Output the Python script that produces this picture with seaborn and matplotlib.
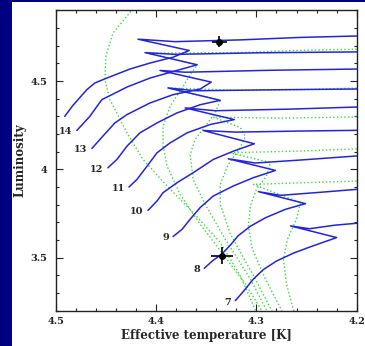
import numpy as np
import pandas as pd
import matplotlib
matplotlib.use("Agg")
import matplotlib.pyplot as plt
from matplotlib.patches import Rectangle
from matplotlib.ticker import MultipleLocator, FuncFormatter
import seaborn as sns


# ---------------------------------------------------------
# evolutionary tracks (log Teff, log L), masses in Msun
# ---------------------------------------------------------
track_15_logt = [4.491, 4.483, 4.469, 4.461, 4.449, 4.426, 4.406, 4.383, 4.367, 4.418, 4.381, 4.316, 4.256, 4.200]
track_15_logl = [4.300, 4.361, 4.451, 4.489, 4.517, 4.568, 4.602, 4.635, 4.673, 4.737, 4.723, 4.733, 4.747, 4.755]

track_14_logt = [4.479, 4.466, 4.454, 4.444, 4.429, 4.406, 4.383, 4.359, 4.411, 4.381, 4.296, 4.200]
track_14_logl = [4.220, 4.300, 4.395, 4.423, 4.466, 4.517, 4.554, 4.592, 4.661, 4.651, 4.660, 4.665]

track_13_logt = [4.464, 4.453, 4.441, 4.429, 4.406, 4.383, 4.356, 4.345, 4.396, 4.371, 4.286, 4.200]
track_13_logl = [4.118, 4.188, 4.263, 4.310, 4.376, 4.423, 4.455, 4.494, 4.560, 4.550, 4.561, 4.568]

track_12_logt = [4.448, 4.439, 4.429, 4.416, 4.399, 4.379, 4.356, 4.336, 4.388, 4.361, 4.276, 4.200]
track_12_logl = [4.009, 4.056, 4.131, 4.207, 4.263, 4.320, 4.366, 4.391, 4.461, 4.445, 4.451, 4.455]

track_11_logt = [4.427, 4.419, 4.409, 4.399, 4.386, 4.369, 4.346, 4.322, 4.371, 4.341, 4.267, 4.200]
track_11_logl = [3.900, 3.943, 4.018, 4.094, 4.150, 4.207, 4.254, 4.282, 4.348, 4.332, 4.341, 4.353]

track_10_logt = [4.408, 4.399, 4.393, 4.379, 4.363, 4.343, 4.323, 4.302, 4.353, 4.321, 4.256, 4.200]
track_10_logl = [3.768, 3.821, 3.868, 3.925, 3.981, 4.056, 4.103, 4.145, 4.220, 4.211, 4.217, 4.221]

track_9_logt = [4.383, 4.374, 4.366, 4.356, 4.343, 4.323, 4.303, 4.281, 4.328, 4.301, 4.256, 4.200]
track_9_logl = [3.620, 3.661, 3.718, 3.784, 3.849, 3.906, 3.953, 3.994, 4.060, 4.036, 4.053, 4.076]

track_8_logt = [4.352, 4.343, 4.335, 4.326, 4.318, 4.306, 4.291, 4.271, 4.251, 4.298, 4.276, 4.237, 4.200]
track_8_logl = [3.440, 3.486, 3.517, 3.571, 3.625, 3.678, 3.726, 3.774, 3.806, 3.874, 3.853, 3.870, 3.887]

track_7_logt = [4.321, 4.313, 4.303, 4.293, 4.280, 4.263, 4.247, 4.233, 4.220, 4.266, 4.247, 4.222, 4.200]
track_7_logl = [3.257, 3.309, 3.379, 3.433, 3.481, 3.526, 3.560, 3.588, 3.614, 3.680, 3.664, 3.684, 3.695]

track_labels = ["", "14", "13", "12", "11", "10", "9", "8", "7"]

# ---------------------------------------------------------
# isochrones (dotted)
# ---------------------------------------------------------
iso_1_logt = [4.416, 4.424, 4.443, 4.450, 4.451, 4.446, 4.429, 4.413, 4.389, 4.363, 4.336, 4.316, 4.301, 4.296]
iso_1_logl = [4.959, 4.902, 4.771, 4.639, 4.507, 4.395, 4.207, 4.056, 3.906, 3.755, 3.586, 3.398, 3.204, 3.125]

iso_2_logt = [4.200, 4.256, 4.316, 4.408, 4.359, 4.366, 4.373, 4.386, 4.393, 4.393, 4.389, 4.376, 4.356, 4.331, 4.311, 4.295, 4.290]
iso_2_logl = [4.680, 4.674, 4.661, 4.658, 4.592, 4.536, 4.470, 4.357, 4.244, 4.131, 4.018, 3.859, 3.689, 3.503, 3.351, 3.204, 3.125]

iso_3_logt = [4.200, 4.256, 4.316, 4.388, 4.336, 4.341, 4.351, 4.361, 4.366, 4.363, 4.351, 4.331, 4.306, 4.290, 4.284]
iso_3_logl = [4.461, 4.451, 4.447, 4.461, 4.391, 4.320, 4.244, 4.169, 4.084, 3.943, 3.802, 3.605, 3.379, 3.204, 3.125]

iso_4_logt = [4.200, 4.276, 4.343, 4.316, 4.311, 4.316, 4.328, 4.336, 4.336, 4.326, 4.301, 4.285, 4.279]
iso_4_logl = [4.297, 4.290, 4.296, 4.237, 4.186, 4.124, 4.028, 3.915, 3.803, 3.634, 3.379, 3.204, 3.125]

iso_5_logt = [4.200, 4.256, 4.326, 4.286, 4.290, 4.300, 4.306, 4.308, 4.304, 4.291, 4.275, 4.269]
iso_5_logl = [4.116, 4.104, 4.094, 4.038, 3.962, 3.887, 3.793, 3.680, 3.549, 3.379, 3.204, 3.125]

iso_6_logt = [4.200, 4.256, 4.303, 4.256, 4.260, 4.269, 4.273, 4.270, 4.263, 4.259]
iso_6_logl = [3.934, 3.924, 3.915, 3.812, 3.718, 3.605, 3.492, 3.351, 3.204, 3.125]

# observed stars with error bars
star_logt = [4.337, 4.334]
star_logl = [4.723, 3.511]
star_logt_err = [0.0075, 0.011]
star_logl_err = [0.032, 0.049]


tracks = [
    (track_15_logt, track_15_logl), (track_14_logt, track_14_logl),
    (track_13_logt, track_13_logl), (track_12_logt, track_12_logl),
    (track_11_logt, track_11_logl), (track_10_logt, track_10_logl),
    (track_9_logt, track_9_logl), (track_8_logt, track_8_logl),
    (track_7_logt, track_7_logl),
]
isos = [
    (iso_1_logt, iso_1_logl), (iso_2_logt, iso_2_logl), (iso_3_logt, iso_3_logl),
    (iso_4_logt, iso_4_logl), (iso_5_logt, iso_5_logl), (iso_6_logt, iso_6_logl),
]


def to_long(curves):
    rows = []
    for i, (lt, ll) in enumerate(curves):
        for j, (t, l) in enumerate(zip(lt, ll)):
            rows.append({"curve": i, "order": j, "logt": t, "logl": l})
    return pd.DataFrame(rows)


df_tracks = to_long(tracks)
df_isos = to_long(isos)

# -----------------------------
# FIGURE
# -----------------------------
sns.set_style("ticks")
plt.rcParams["font.family"] = ["DejaVu Serif"]
plt.rcParams["font.weight"] = "bold"

fig = plt.figure(figsize=(3.65, 3.46), dpi=100, facecolor="#000080")
fig.patches.append(Rectangle((12 / 365, 0), 1, 344 / 346, transform=fig.transFigure,
                             facecolor="white", edgecolor="none", zorder=-10))
ax = fig.add_axes([0.1526, 0.102, 0.8247, 0.869])
ax.set_facecolor("white")

sns.lineplot(data=df_isos, x="logt", y="logl", units="curve", estimator=None,
             sort=False, color="#33dd33", linestyle=":", linewidth=1.0, ax=ax)
sns.lineplot(data=df_tracks, x="logt", y="logl", units="curve", estimator=None,
             sort=False, color="#2424e0", linewidth=1.1, ax=ax)

for (lt, ll), lab in zip(tracks, track_labels):
    if lab:
        ax.annotate(lab, (lt[0], ll[0]), xytext=(-3, -1), textcoords="offset points",
                    ha="right", va="center", fontsize=7, fontweight="bold")

ax.errorbar(star_logt, star_logl, xerr=star_logt_err, yerr=star_logl_err,
            fmt="o", color="black", ms=4, elinewidth=1.2, capsize=0, zorder=5)

ax.set_xlim(4.5, 4.2)
ax.set_ylim(3.2, 4.902)
ax.xaxis.set_major_locator(MultipleLocator(0.1))
ax.xaxis.set_minor_locator(MultipleLocator(0.02))
ax.yaxis.set_major_locator(MultipleLocator(0.5))
ax.yaxis.set_minor_locator(MultipleLocator(0.1))
fmt = FuncFormatter(lambda v, p: f"{v:g}")
ax.xaxis.set_major_formatter(fmt)
ax.yaxis.set_major_formatter(fmt)
ax.tick_params(which="both", direction="in", top=True, right=True, colors="#222222",
               labelsize=7, width=0.8)
ax.tick_params(which="major", length=5, pad=4.5)
ax.tick_params(axis="y", which="major", pad=6)
ax.tick_params(which="minor", length=2.5)
for spine in ax.spines.values():
    spine.set_linewidth(1.0)
    spine.set_color("#222222")

ax.set_xlabel("Effective temperature [K]", fontsize=8.5, fontweight="bold", labelpad=2)
ax.set_ylabel("Luminosity", fontsize=8.5, fontweight="bold")
ax.yaxis.set_label_coords(-0.096, 0.5)

fig.savefig("out.png", dpi=100, facecolor=fig.get_facecolor())
